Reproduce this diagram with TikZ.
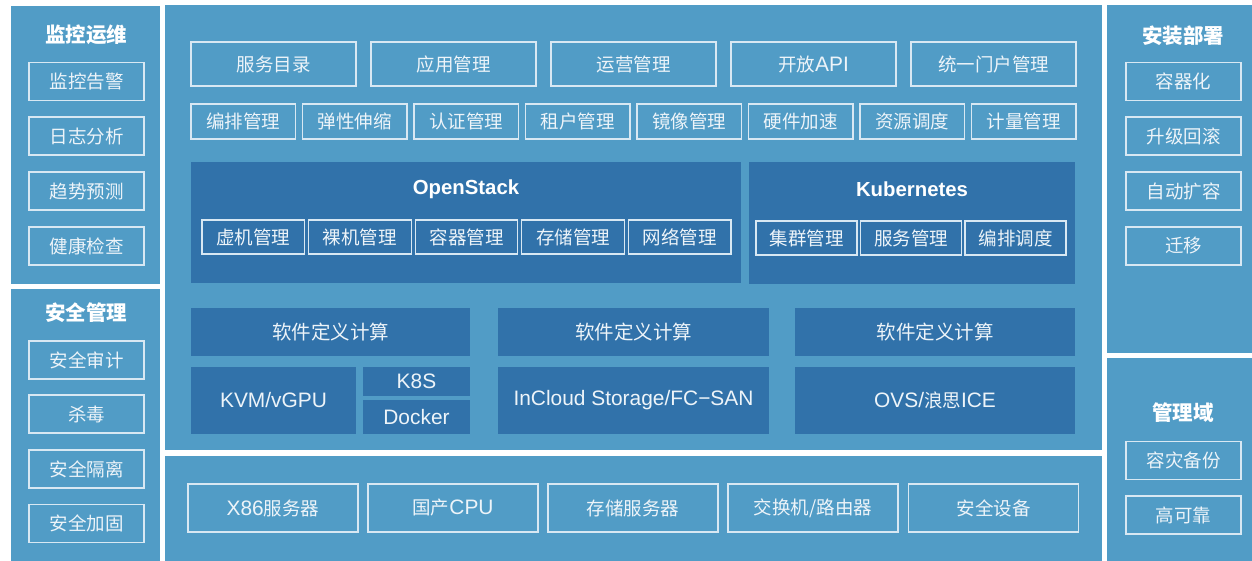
\documentclass[tikz,border=0pt]{standalone}
\usepackage{fontspec}
\setmainfont{Noto Sans CJK SC}
\newfontfamily\enfont[Scale=1.13]{Liberation Sans}
\newcommand{\entxt}[1]{{\enfont #1}}
\definecolor{lightblue}{HTML}{519CC6}
\definecolor{darkblue}{HTML}{3172AA}
\definecolor{boxline}{HTML}{D8E8F3}
\definecolor{txt}{HTML}{EDF4F9}

\begin{document}
\begin{tikzpicture}[x=1pt,y=-1pt]

\tikzset{panel/.style = {fill=lightblue, anchor=north west, inner sep=0pt}}
\tikzset{darkpanel/.style = {fill=darkblue, anchor=north west, inner sep=0pt}}
\tikzset{box/.style = {draw=boxline, line width=1.2pt, inner sep=0pt, text=txt, font=\fontsize{18.5}{20}\selectfont}}
\tikzset{darkbox/.style = {fill=darkblue, inner sep=0pt, text=txt, font=\fontsize{18.5}{20}\selectfont}}
\tikzset{sidebox/.style = {box, minimum width=115pt, minimum height=38pt}}
\tikzset{svcbox/.style = {box, minimum width=165pt, minimum height=44pt}}
\tikzset{fnbox/.style = {box, minimum width=104.5pt, minimum height=35pt}}
\tikzset{osbox/.style = {box, minimum width=102.6pt, minimum height=34pt}}
\tikzset{hwbox/.style = {box, minimum width=170pt, minimum height=48pt}}
\tikzset{title/.style = {text=white, font=\fontsize{20.5}{22}\selectfont\bfseries}}
\tikzset{entitle/.style = {text=white, font=\fontsize{18}{20}\selectfont\bfseries}}

\useasboundingbox (0,0) rectangle (1252,561);
\fill[white] (0,0) rectangle (1252,561);

%panels
\node[panel, minimum width=149pt, minimum height=278pt] (monpanel) at (11,6) {};
\node[panel, minimum width=149pt, minimum height=272pt] (secpanel) at (11,289) {};
\node[panel, minimum width=937pt, minimum height=445pt] (mainpanel) at (165,5) {};
\node[panel, minimum width=937pt, minimum height=105pt] (hwpanel) at (165,456) {};
\node[panel, minimum width=145pt, minimum height=348pt] (deppanel) at (1107,5) {};
\node[panel, minimum width=145pt, minimum height=203pt] (mgmtpanel) at (1107,358) {};

%monitoring
\node[title] (montitle) at (86,35) {监控运维};
\node[sidebox] (mon1) at (86.5,81.5) {监控告警};
\node[sidebox] (mon2) at (86.5,136) {日志分析};
\node[sidebox] (mon3) at (86.5,191) {趋势预测};
\node[sidebox] (mon4) at (86.5,246) {健康检查};

%security
\node[title] (sectitle) at (86,313) {安全管理};
\node[sidebox] (sec1) at (86.5,360) {安全审计};
\node[sidebox] (sec2) at (86.5,414) {杀毒};
\node[sidebox] (sec3) at (86.5,469) {安全隔离};
\node[sidebox] (sec4) at (86.5,523.5) {安全加固};

%deployment
\node[title] (deptitle) at (1183,36) {安装部署};
\node[sidebox] (dep1) at (1183.5,81.5) {容器化};
\node[sidebox] (dep2) at (1183.5,136) {升级回滚};
\node[sidebox] (dep3) at (1183.5,191) {自动扩容};
\node[sidebox] (dep4) at (1183.5,246) {迁移};

%management
\node[title] (mgmttitle) at (1183,413) {管理域};
\node[sidebox] (mgmt1) at (1183.5,460.5) {容灾备份};
\node[sidebox] (mgmt2) at (1183.5,515) {高可靠};

%services
\node[svcbox] (svc1) at (273.5,64) {服务目录};
\node[svcbox] (svc2) at (453.5,64) {应用管理};
\node[svcbox] (svc3) at (633.5,64) {运营管理};
\node[svcbox] (svc4) at (813.5,64) {开放\entxt{API}};
\node[svcbox] (svc5) at (993.5,64) {统一门户管理};

\node[fnbox] (fn1) at (243.25,121.5) {编排管理};
\node[fnbox] (fn2) at (354.75,121.5) {弹性伸缩};
\node[fnbox] (fn3) at (466.25,121.5) {认证管理};
\node[fnbox] (fn4) at (577.75,121.5) {租户管理};
\node[fnbox] (fn5) at (689.25,121.5) {镜像管理};
\node[fnbox] (fn6) at (800.75,121.5) {硬件加速};
\node[fnbox] (fn7) at (912.25,121.5) {资源调度};
\node[fnbox] (fn8) at (1023.75,121.5) {计量管理};

%openstack
\node[darkpanel, minimum width=550pt, minimum height=121pt] (ospanel) at (191,162) {};
\node[entitle] (ostitle) at (466,189) {\entxt{OpenStack}};
\node[osbox] (os1) at (253.3,237) {虚机管理};
\node[osbox] (os2) at (359.9,237) {裸机管理};
\node[osbox] (os3) at (466.5,237) {容器管理};
\node[osbox] (os4) at (573.1,237) {存储管理};
\node[osbox] (os5) at (679.7,237) {网络管理};

%kubernetes
\node[darkpanel, minimum width=326pt, minimum height=122pt] (k8spanel) at (749,162) {};
\node[entitle] (k8stitle) at (912,189) {\entxt{Kubernetes}};
\node[osbox, minimum width=101pt] (k8s1) at (806.5,238) {集群管理};
\node[osbox, minimum width=101pt] (k8s2) at (911,238) {服务管理};
\node[osbox, minimum width=101pt] (k8s3) at (1015.5,238) {编排调度};

%software defined
\node[darkbox, minimum width=279pt, minimum height=48pt, font=\fontsize{19.5}{21}\selectfont] (sdc1) at (330.5,332) {软件定义计算};
\node[darkbox, minimum width=271pt, minimum height=48pt, font=\fontsize{19.5}{21}\selectfont] (sdc2) at (633.5,332) {软件定义计算};
\node[darkbox, minimum width=280pt, minimum height=48pt, font=\fontsize{19.5}{21}\selectfont] (sdc3) at (935,332) {软件定义计算};

\node[darkbox, minimum width=165pt, minimum height=67pt] (kvm) at (273.5,400.5) {\entxt{KVM/vGPU}};
\node[darkbox, minimum width=107pt, minimum height=29pt] (k8s) at (416.5,381.5) {\entxt{K8S}};
\node[darkbox, minimum width=107pt, minimum height=34pt] (docker) at (416.5,417) {\entxt{Docker}};
\node[darkbox, minimum width=271pt, minimum height=67pt] (storage) at (633.5,400.5) {\entxt{InCloud Storage/FC−SAN}};
\node[darkbox, minimum width=280pt, minimum height=67pt] (ovs) at (935,400.5) {\entxt{OVS/}浪思\entxt{ICE}};

%hardware
\node[hwbox] (hw1) at (273,508) {\entxt{X86}服务器};
\node[hwbox] (hw2) at (453,508) {国产\entxt{CPU}};
\node[hwbox] (hw3) at (633,508) {存储服务器};
\node[hwbox] (hw4) at (813,508) {交换机/路由器};
\node[hwbox] (hw5) at (993.5,508) {安全设备};

\end{tikzpicture}
\end{document}
